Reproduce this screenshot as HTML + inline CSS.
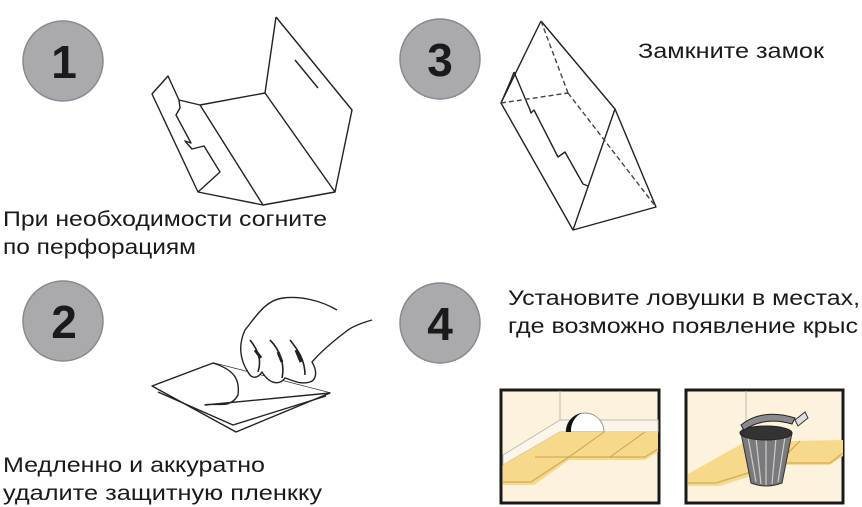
<!DOCTYPE html>
<html><head><meta charset="utf-8"><style>
html,body{margin:0;padding:0;background:#fff;}
svg{display:block;}
text{font-family:"Liberation Sans","DejaVu Sans",sans-serif;fill:#1a1a1a;}
</style></head><body>
<svg width="862" height="507" viewBox="0 0 862 507" xmlns="http://www.w3.org/2000/svg">
<rect width="862" height="507" fill="#fff"/>
<!-- circles -->
<g fill="#a9a9ae" stroke="#8a8a8e" stroke-width="1.5">
<circle cx="63" cy="61" r="40"/><circle cx="440" cy="59" r="40"/>
<circle cx="63" cy="321" r="40"/><circle cx="440" cy="323" r="40"/>
</g>
<g font-weight="bold" font-size="46" text-anchor="middle">
<text x="64" y="78" fill="#111">1</text><text x="440" y="76" fill="#111">3</text>
<text x="64" y="338" fill="#111">2</text><text x="440" y="340" fill="#111">4</text>
</g>
<!-- texts -->
<g font-size="21">
<text x="3" y="226" textLength="324" lengthAdjust="spacingAndGlyphs">При необходимости согните</text>
<text x="3" y="254" textLength="193" lengthAdjust="spacingAndGlyphs">по перфорациям</text>
<text x="638" y="58" textLength="186" lengthAdjust="spacingAndGlyphs">Замкните замок</text>
<text x="508" y="305" textLength="352" lengthAdjust="spacingAndGlyphs">Установите ловушки в местах,</text>
<text x="508" y="333" textLength="350" lengthAdjust="spacingAndGlyphs">где возможно появление крыс</text>
<text x="3" y="472" textLength="262" lengthAdjust="spacingAndGlyphs">Медленно и аккуратно</text>
<text x="3" y="500" textLength="319" lengthAdjust="spacingAndGlyphs">удалите защитную пленкку</text>
</g>
<!-- step1 drawing -->
<g fill="none" stroke="#222" stroke-width="1.4" stroke-linejoin="round">
<polyline points="276,17 265,93 200,105"/>
<polyline points="276,17 352,110 335,192 263,205 198,192 152,94 168,76 179,100 200,105"/>
<line x1="265" y1="93" x2="335" y2="192"/>
<line x1="200" y1="105" x2="263" y2="205"/>
<polyline points="179,100 180,108 176,115 191,143 185,141 192,149 204,146 220,172 198,192"/>
<line x1="295" y1="60" x2="318" y2="88"/>
</g>
<!-- step3 drawing -->
<g fill="none" stroke="#222" stroke-width="1.4" stroke-linejoin="round">
<polyline points="541,21 501,103 573,230 656,207 615,109 541,21"/>
<polyline points="615,109 573,230"/>
<polyline points="514,72 511,80 501,103"/>
<polyline points="514,72 530,110 531,113 534,110 558,157 565,152 583,184 588,186"/>
<g stroke-dasharray="5,3" stroke="#444"><line x1="501" y1="103" x2="568" y2="93"/><line x1="568" y1="93" x2="656" y2="207"/><line x1="541" y1="21" x2="568" y2="93"/></g>
</g>
<!-- step2 drawing -->
<g fill="none" stroke="#222" stroke-width="1.4" stroke-linejoin="round">
<polygon points="152,386 213,363 330,393 236,432" fill="#fff"/>
<polyline points="158,392 233,425 326,396"/>
<path d="M213,363 C235,370 240,380 238,395 C230,410 215,402 205,405 L330,393" fill="#fff"/>
<path d="M337,310 C320,300 300,296 283,298 C265,300 255,318 245,330 C238,345 240,360 248,372 C252,380 258,378 262,372 C270,385 280,385 285,378 C292,380 300,385 310,382 C316,380 318,372 312,362 C318,355 328,345 348,330 C355,325 365,322 372,320" fill="#fff"/>
<path d="M250,340 C258,350 262,360 258,372 M270,340 C280,350 285,365 282,378 M290,340 C298,350 305,360 305,375" stroke-width="1.6"/>
<path d="M255,350 l6,8 M278,352 l4,10 M296,350 l5,12" stroke-width="3"/>
</g>
<!-- panel 1 -->
<g>
<rect x="501" y="390" width="158" height="113" fill="#fdf3dd" stroke="#1a1a1a" stroke-width="3"/>
<line x1="560" y1="391" x2="560" y2="422" stroke="#bbb" stroke-width="1"/>
<polygon points="560,420 658,420 658,432 560,432 503,465 503,455" fill="#fbf5ea" stroke="#bbb" stroke-width="1"/>
<path d="M566,432 A19,19 0 0 1 604,432 Z" fill="#fff" stroke="#999"/>
<path d="M566,432 A19,19 0 0 1 582,413 A17,19 0 0 0 571,432 Z" fill="#111"/>
<polygon points="560,432 658,432 658,452 645,460 569,460 534,485 503,485 503,465" fill="#f6d98a"/>
<polyline points="503,482 531,482 569,457 645,457 658,449" fill="none" stroke="#d7b25a" stroke-width="1.5"/>
<line x1="535" y1="457" x2="570" y2="457" stroke="#c9a24a"/>
<line x1="604" y1="432" x2="569" y2="457" stroke="#c9a24a"/>
<line x1="645" y1="432" x2="610" y2="457" stroke="#c9a24a"/>
</g>
<!-- panel 2 -->
<g>
<rect x="686" y="390" width="157" height="113" fill="#fdf3dd" stroke="#1a1a1a" stroke-width="3"/>
<line x1="746" y1="391" x2="746" y2="424" stroke="#bbb"/>
<polygon points="843,440 843,456 830,465 785,465 720,486 688,486 688,474 745,442" fill="#f6d98a"/>
<polyline points="688,483 716,483 780,463 830,463 843,453" fill="none" stroke="#d7b25a" stroke-width="1.5"/>
<line x1="800" y1="441" x2="778" y2="463" stroke="#c9a24a"/>
<path d="M741,433 L751,483 Q766,489 782,483 L792,433 Z" fill="#7a7a7c" stroke="#333"/>
<g stroke="#ccc" stroke-width="1.2"><line x1="748" y1="437" x2="756" y2="482"/><line x1="756" y1="438" x2="761" y2="484"/><line x1="766" y1="438" x2="766" y2="485"/><line x1="776" y1="438" x2="772" y2="484"/><line x1="785" y1="437" x2="778" y2="482"/></g>
<ellipse cx="766" cy="433" rx="26" ry="7" fill="#333" stroke="#222"/>
<path d="M741,425 Q762,408 795,418 L792,424 Q765,416 744,430 Z" fill="#8a8a8c" stroke="#222"/>
<path d="M795,420 l10,-8 l3,6 l-10,8 Z" fill="#ddd" stroke="#333"/>
</g>
</svg>
</body></html>
